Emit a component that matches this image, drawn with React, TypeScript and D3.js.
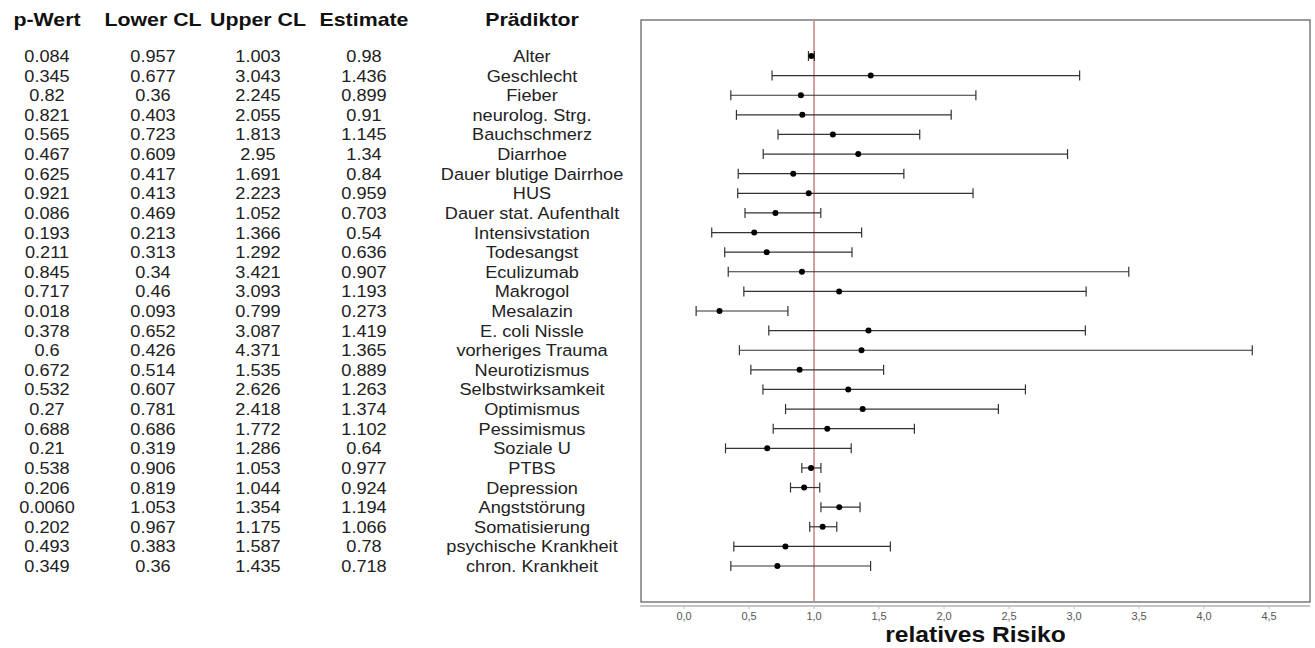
import * as d3 from 'd3';

const predictors = [
  'Alter', 'Geschlecht', 'Fieber', 'neurolog. Strg.', 'Bauchschmerz', 'Diarrhoe',
  'Dauer blutige Dairrhoe', 'HUS', 'Dauer stat. Aufenthalt', 'Intensivstation',
  'Todesangst', 'Eculizumab', 'Makrogol', 'Mesalazin', 'E. coli Nissle',
  'vorheriges Trauma', 'Neurotizismus', 'Selbstwirksamkeit', 'Optimismus',
  'Pessimismus', 'Soziale U', 'PTBS', 'Depression', 'Angststörung',
  'Somatisierung', 'psychische Krankheit', 'chron. Krankheit',
];
const pValues = [
  '0.084', '0.345', '0.82', '0.821', '0.565', '0.467', '0.625', '0.921', '0.086',
  '0.193', '0.211', '0.845', '0.717', '0.018', '0.378', '0.6', '0.672', '0.532',
  '0.27', '0.688', '0.21', '0.538', '0.206', '0.0060', '0.202', '0.493', '0.349',
];
const lowerCL = [
  0.957, 0.677, 0.36, 0.403, 0.723, 0.609, 0.417, 0.413, 0.469, 0.213, 0.313, 0.34,
  0.46, 0.093, 0.652, 0.426, 0.514, 0.607, 0.781, 0.686, 0.319, 0.906, 0.819,
  1.053, 0.967, 0.383, 0.36,
];
const upperCL = [
  1.003, 3.043, 2.245, 2.055, 1.813, 2.95, 1.691, 2.223, 1.052, 1.366, 1.292, 3.421,
  3.093, 0.799, 3.087, 4.371, 1.535, 2.626, 2.418, 1.772, 1.286, 1.053, 1.044,
  1.354, 1.175, 1.587, 1.435,
];
const estimates = [
  0.98, 1.436, 0.899, 0.91, 1.145, 1.34, 0.84, 0.959, 0.703, 0.54, 0.636, 0.907,
  1.193, 0.273, 1.419, 1.365, 0.889, 1.263, 1.374, 1.102, 0.64, 0.977, 0.924,
  1.194, 1.066, 0.78, 0.718,
];
const xTicks = [0, 0.5, 1, 1.5, 2, 2.5, 3, 3.5, 4, 4.5];

const W = 1315;
const H = 648;
const box = { left: 641, right: 1310, top: 20, bottom: 602 };
const font = 'Liberation Sans, Arial, sans-serif';

const x = d3.scaleLinear().domain([-0.331, 4.815]).range([box.left, box.right]);
const y = d3.scalePoint<string>().domain(predictors).range([56, 566]);
const fmt = (v: number) => d3.format('.1f')(v).replace('.', ',');

const columns = [
  { title: 'p-Wert', cx: 47, vals: pValues },
  { title: 'Lower CL', cx: 153, vals: lowerCL.map(String) },
  { title: 'Upper CL', cx: 258, vals: upperCL.map(String) },
  { title: 'Estimate', cx: 364, vals: estimates.map(String) },
  { title: 'Prädiktor', cx: 532, vals: predictors },
];

export default function App() {
  return (
    <svg width={W} height={H} style={{ position: 'absolute', left: 0, top: 0, background: '#fff' }}
      fontFamily={font}>
      {columns.map(c => (
        <g key={c.title}>
          <text transform={`translate(${c.cx},26) scale(1.22,1)`} textAnchor="middle"
            fontWeight="bold" fontSize={17.5} fill="#111">{c.title}</text>
          {c.vals.map((v, i) => (
            <text key={i} transform={`translate(${c.cx},${y(predictors[i])! + 6}) scale(1.1,1)`}
              textAnchor="middle" fontSize={16.5} fill="#222">{v}</text>
          ))}
        </g>
      ))}

      <rect x={box.left} y={box.top} width={box.right - box.left} height={box.bottom - box.top}
        fill="none" stroke="#666" strokeWidth={1.3} />
      <line x1={box.left - 1} x2={box.right} y1={box.bottom + 4} y2={box.bottom + 4} stroke="#c4c4c4" strokeWidth={2} />
      {xTicks.map(t => (
        <line key={t} x1={x(t)} x2={x(t)} y1={box.bottom + 4} y2={box.bottom + 7} stroke="#c4c4c4" strokeWidth={1} />
      ))}

      <line x1={x(1)} x2={x(1)} y1={box.top} y2={box.bottom} stroke="#c98a8a" strokeWidth={1.6} />

      {predictors.map((p, i) => {
        const cy = y(p)!;
        return (
          <g key={p}>
            <line x1={x(lowerCL[i])} x2={x(upperCL[i])} y1={cy} y2={cy} stroke="#333" strokeWidth={1.2} />
            <line x1={x(lowerCL[i])} x2={x(lowerCL[i])} y1={cy - 5} y2={cy + 5} stroke="#333" strokeWidth={1.2} />
            <line x1={x(upperCL[i])} x2={x(upperCL[i])} y1={cy - 5} y2={cy + 5} stroke="#333" strokeWidth={1.2} />
            <circle cx={x(estimates[i])} cy={cy} r={3} fill="#000" />
          </g>
        );
      })}

      {xTicks.map(t => (
        <text key={t} transform={`translate(${x(t)},620) scale(1.1,1)`} textAnchor="middle"
          fontSize={10} fill="#555">{fmt(t)}</text>
      ))}
      <text transform={`translate(${(box.left + box.right) / 2},642) scale(1.12,1)`} textAnchor="middle"
        fontWeight="bold" fontSize={22} fill="#111">
        relatives Risiko
      </text>
    </svg>
  );
}
